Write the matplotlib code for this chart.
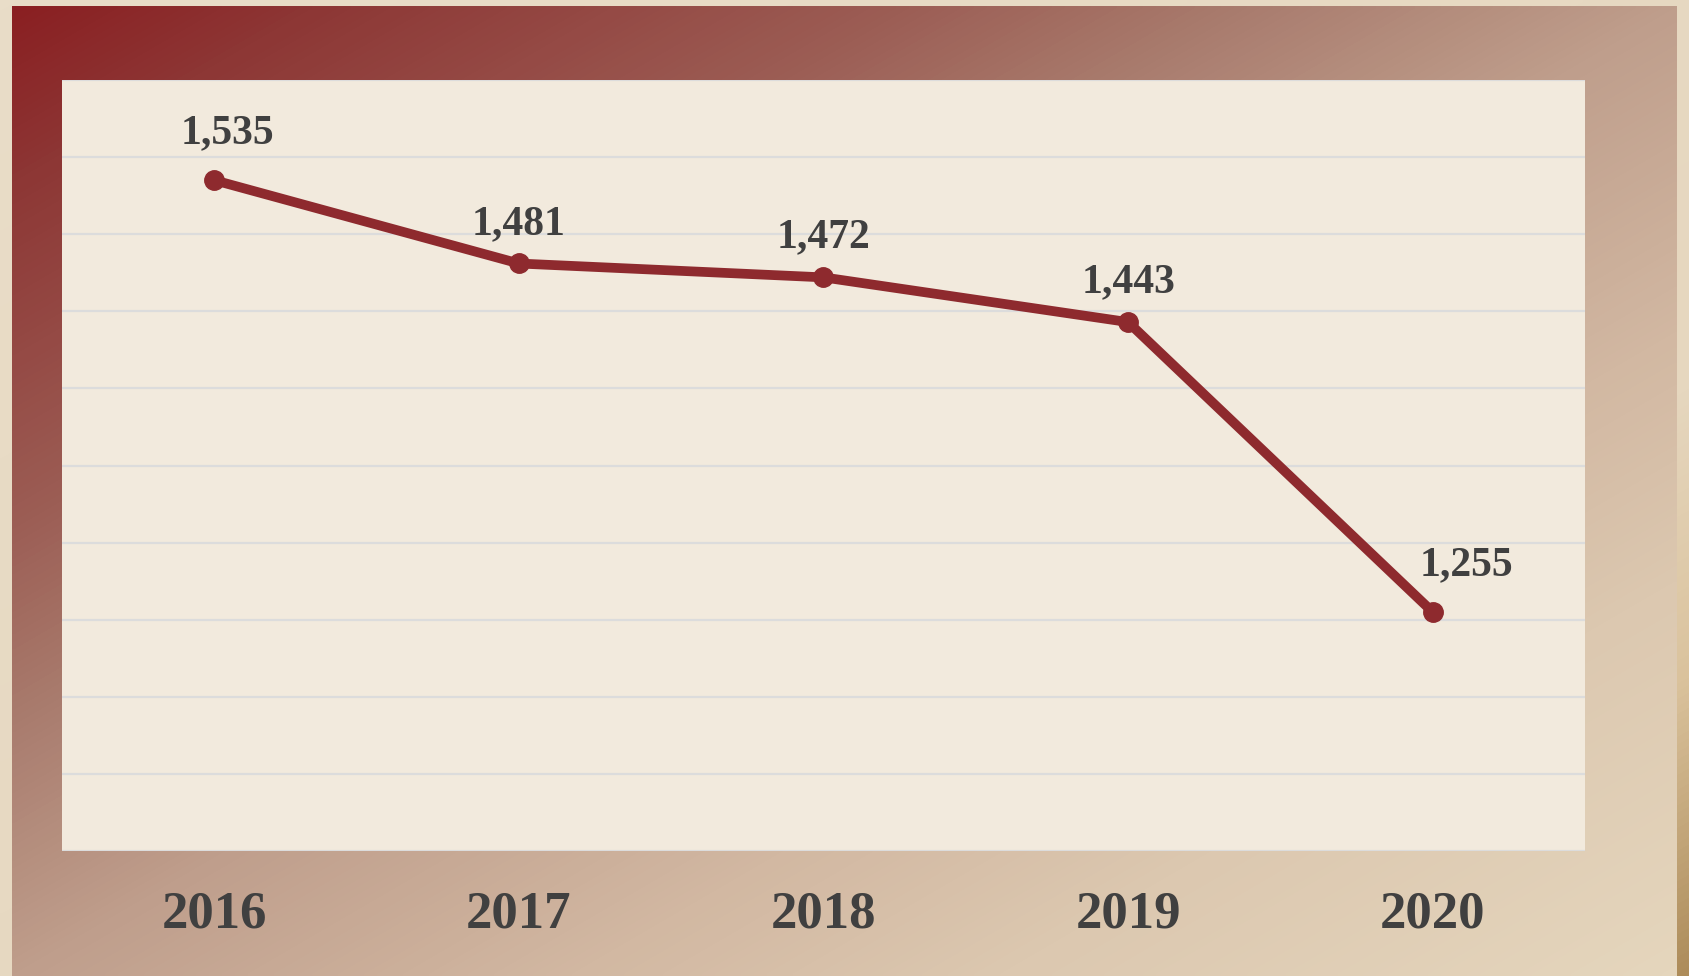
"""
plot.py — 年度數量折線圖 (2016–2020)，漸層外框 + 米色繪圖區
"""

import matplotlib.pyplot as plt
import numpy as np
from matplotlib.colors import LinearSegmentedColormap

plt.rcParams["font.family"] = ["Liberation Serif", "DejaVu Serif"]

YEARS = ["2016", "2017", "2018", "2019", "2020"]
VALUES = [1535, 1481, 1472, 1443, 1255]

Y_MIN, Y_MAX, Y_STEP = 1100, 1600, 50

LINE_COLOR = "#8e2a2e"
TEXT_COLOR = "#404040"
GRID_COLOR = "#dcdcdc"
PLOT_BG = "#f2eadd"

# 外框漸層 (左上深紅 -> 右下米色)
FRAME_CMAP = LinearSegmentedColormap.from_list("frame", [
    (0.00, "#8a1f22"), (0.09, "#8d3735"), (0.18, "#954a45"),
    (0.27, "#9c5e55"), (0.37, "#a97c6e"), (0.50, "#bf9e8c"),
    (0.67, "#d2b8a2"), (0.80, "#dcc8b0"), (1.00, "#e5d6bd")])
PAGE_CMAP = LinearSegmentedColormap.from_list("page", [
    (0.00, "#e9ddc8"), (0.70, "#e6d7bf"), (0.85, "#dac29c"), (1.00, "#ad8c5a")])


def diag_gradient(n_x=400, n_y=240):
    xx, yy = np.meshgrid(np.linspace(0, 1, n_x), np.linspace(0, 1, n_y))
    return (xx + yy) / 2


def main() -> None:
    W, H = 1690, 976
    fig = plt.figure(figsize=(W / 100, H / 100), dpi=100)

    # --- 背景: 頁面 + 漸層外框 ---
    page = fig.add_axes([0, 0, 1, 1], zorder=-3)
    page.imshow(diag_gradient(), cmap=PAGE_CMAP, aspect="auto",
                extent=(0, 1, 0, 1), origin="upper", interpolation="bilinear")
    page.set_axis_off()

    frame = fig.add_axes([12 / W, 0, (1677 - 12) / W, (H - 6) / H], zorder=-2)
    frame.imshow(diag_gradient(), cmap=FRAME_CMAP, aspect="auto",
                 extent=(0, 1, 0, 1), origin="upper", interpolation="bilinear")
    frame.set_axis_off()

    # --- 主圖 ---
    ax = fig.add_axes([62 / W, (H - 851) / H, (1585 - 62) / W, (851 - 80) / H])
    ax.set_facecolor(PLOT_BG)
    x = np.arange(len(YEARS))
    ax.plot(x, VALUES, "-o", color=LINE_COLOR, lw=7, ms=14,
            solid_capstyle="round", zorder=3, clip_on=False)

    ax.set_xlim(-0.5, len(YEARS) - 0.5)
    ax.set_ylim(Y_MIN, Y_MAX)
    ax.set_yticks(np.arange(Y_MIN, Y_MAX + 1, Y_STEP))
    ax.yaxis.grid(True, color=GRID_COLOR, lw=1.6)
    ax.set_axisbelow(True)
    ax.tick_params(axis="y", left=False, labelleft=False)
    ax.tick_params(axis="x", bottom=False, pad=25, colors=TEXT_COLOR,
                   labelsize=38)
    ax.set_xticks(x)
    ax.set_xticklabels(YEARS, fontweight="bold")
    for s in ax.spines.values():
        s.set_visible(False)

    # 數值標籤 (頭尾稍微右移避免壓到線)
    offsets = [(9.5, 27), (0, 21), (0, 22), (0, 21.5), (24, 26.5)]
    for xi, v, (dx, dy) in zip(x, VALUES, offsets):
        ax.annotate(f"{v:,}", (xi, v), xytext=(dx, dy),
                    textcoords="offset points", ha="center", va="baseline",
                    fontsize=30, fontweight="bold", color=TEXT_COLOR)

    fig.savefig("out.png", dpi=100)


if __name__ == "__main__":
    main()
